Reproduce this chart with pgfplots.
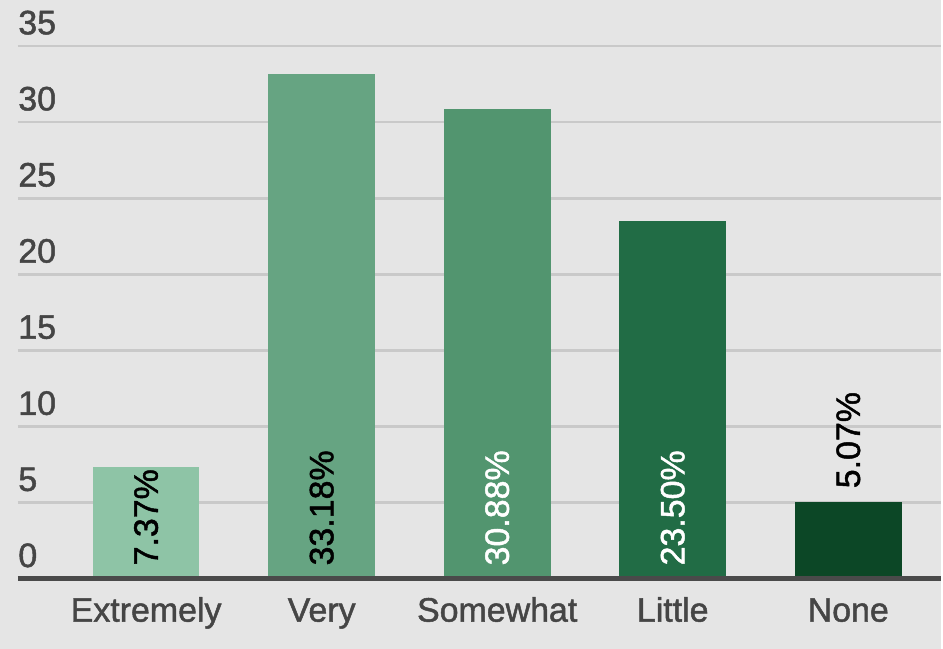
\documentclass[border=0pt]{standalone}
\usepackage{pgfplots}
\pgfplotsset{compat=1.18}
\usepackage{fontspec}
\setmainfont{Liberation Sans}[AutoFakeBold=1.4]
\definecolor{bg}{HTML}{E5E5E5}
\definecolor{gridc}{HTML}{C9C9C9}
\definecolor{axisc}{HTML}{4A4A4A}
\definecolor{textc}{HTML}{454545}
\definecolor{c1}{HTML}{8EC4A6}
\definecolor{c2}{HTML}{66A482}
\definecolor{c3}{HTML}{52956F}
\definecolor{c4}{HTML}{216C45}
\definecolor{c5}{HTML}{0C4726}
\begin{document}
\begin{tikzpicture}
\fill[bg] (-9pt,-35pt) rectangle (462.5pt,290pt);
\begin{axis}[
  scale only axis, width=462.5pt, height=290pt,
  xmin=-0.730, xmax=4.526, ymin=0, ymax=38.01,
  clip=false,
  axis line style={draw=none},
  major tick length=0pt,
  ymajorgrids, grid style={gridc, line width=1.3pt},
  ytick={5,10,15,20,25,30,35},
  extra y ticks={0}, extra y tick style={grid=none},
  xtick={0,1,2,3,4},
  xticklabels={Extremely,Very,Somewhat,Little,None},
  /pgf/number format/assume math mode=true,
  yticklabel style={anchor=south west, inner sep=0pt, yshift=5.5pt, text=textc, font=\fontsize{17}{19}\selectfont\bfseries},
  xticklabel style={anchor=base, inner sep=0pt, yshift=-21.5pt, text=textc, font=\fontsize{17}{19}\selectfont\bfseries},
]
\addplot[ybar, bar width=53.5pt, bar shift=0pt, fill=c1, draw=none] coordinates {(0,7.37)};
\addplot[ybar, bar width=53.5pt, bar shift=0pt, fill=c2, draw=none] coordinates {(1,33.18)};
\addplot[ybar, bar width=53.5pt, bar shift=0pt, fill=c3, draw=none] coordinates {(2,30.88)};
\addplot[ybar, bar width=53.5pt, bar shift=0pt, fill=c4, draw=none] coordinates {(3,23.50)};
\addplot[ybar, bar width=53.5pt, bar shift=0pt, fill=c5, draw=none] coordinates {(4,5.07)};
\addplot[axisc, line width=2.4pt, mark=none] coordinates {(-0.730,0) (4.526,0)};
\addplot[draw=none, mark=none, nodes near coords, point meta=explicit symbolic,
  nodes near coords style={rotate=90, anchor=west, inner xsep=6.5pt, inner ysep=0pt, text=black, font=\fontsize{17}{19}\selectfont\bfseries}]
  coordinates {(0,0) [7.37\%] (1,0) [33.18\%] (4,5.07) [5.07\%]};
\addplot[draw=none, mark=none, nodes near coords, point meta=explicit symbolic,
  nodes near coords style={rotate=90, anchor=west, inner xsep=6.5pt, inner ysep=0pt, text=white, font=\fontsize{17}{19}\selectfont\bfseries}]
  coordinates {(2,0) [30.88\%] (3,0) [23.50\%]};
\end{axis}
\end{tikzpicture}
\end{document}
